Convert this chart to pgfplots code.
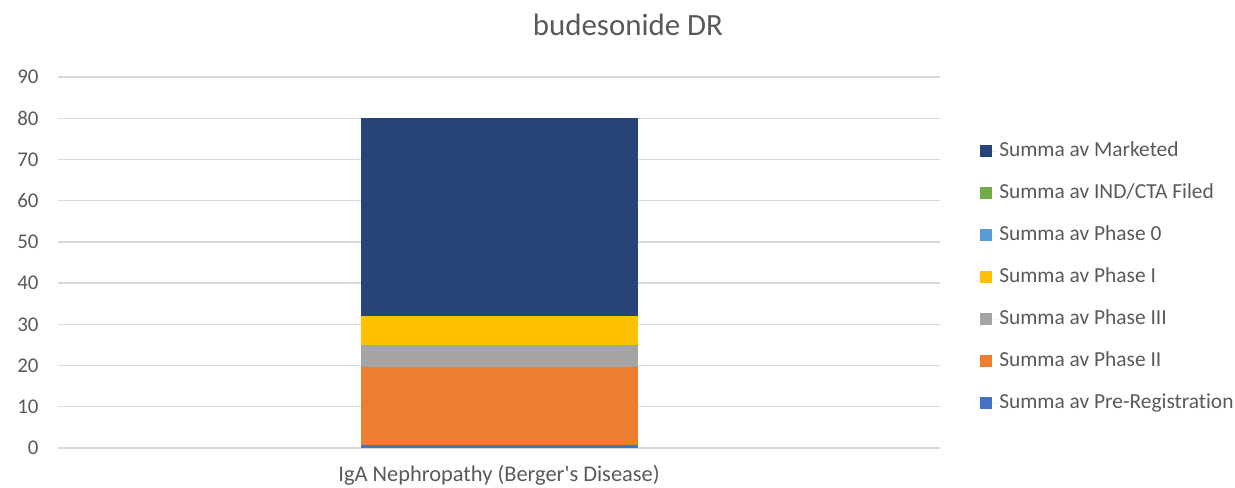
\documentclass[border=0pt]{standalone}
\usepackage{pgfplots}
\pgfplotsset{compat=1.18}
\usepackage{fontspec}
\setmainfont{Carlito}[Ligatures={TeXOff,NoCommon}]
\definecolor{cMarketed}{HTML}{264478}
\definecolor{cIND}{HTML}{70AD47}
\definecolor{cPh0}{HTML}{5B9BD5}
\definecolor{cPhI}{HTML}{FFC000}
\definecolor{cPhIII}{HTML}{A5A5A5}
\definecolor{cPhII}{HTML}{ED7D31}
\definecolor{cPre}{HTML}{4472C4}
\definecolor{gridc}{HTML}{D9D9D9}
\definecolor{textc}{HTML}{595959}
\begin{document}
\begin{tikzpicture}[x=1bp,y=1bp]
\useasboundingbox (0,0) rectangle (1235,488);
\begin{axis}[
  at={(58bp,40bp)}, anchor=south west,
  scale only axis, width=882bp, height=371bp,
  ybar stacked, bar width=277bp,
  xmin=-1, xmax=1, ymin=0, ymax=90,
  ytick={0,10,...,90}, xtick={0},
  xticklabels={IgA Nephropathy (Berger's Disease)},
  ymajorgrids, grid style={draw=gridc, line width=1.3bp},
  axis x line*=bottom, axis y line*=left,
  y axis line style={draw=none},
  x axis line style={draw=gridc, line width=1.3bp},
  major tick length=0,
  /pgf/number format/assume math mode=true,
  tick label style={font=\fontsize{21}{25}\selectfont, text=textc},
  yticklabel style={xshift=-16bp},
  xticklabel style={yshift=-14bp, font=\fontsize{22.5}{26}\selectfont},
  reverse legend,
  legend cell align=left,
  legend image code/.code={\fill[#1] (0bp,-6bp) rectangle (12bp,6bp); \path (0bp,0bp) -- (17bp,0bp);},
  legend style={at={(1.0454,0.830)}, anchor=north west, draw=none, fill=none,
    inner sep=0pt, row sep=20bp,
    font=\fontsize{21.5}{25}\selectfont, text=textc,
    nodes={text height=14bp, text depth=4bp, inner sep=2bp}},
]
\addplot[fill=cPre, draw=none] coordinates {(0,0.7)};
\addlegendentry{Summa av Pre-Registration}
\addplot[fill=cPhII, draw=none] coordinates {(0,19)};
\addlegendentry{Summa av Phase II}
\addplot[fill=cPhIII, draw=none] coordinates {(0,5.3)};
\addlegendentry{Summa av Phase III}
\addplot[fill=cPhI, draw=none] coordinates {(0,7)};
\addlegendentry{Summa av Phase I}
\addplot[fill=cPh0, draw=none] coordinates {(0,0)};
\addlegendentry{Summa av Phase 0}
\addplot[fill=cIND, draw=none] coordinates {(0,0)};
\addlegendentry{Summa av IND/CTA Filed}
\addplot[fill=cMarketed, draw=none] coordinates {(0,48)};
\addlegendentry{Summa av Marketed}
\end{axis}
\node[font=\fontsize{31}{36}\selectfont, text=textc] at (628bp,463bp) {budesonide DR};
\end{tikzpicture}
\end{document}
